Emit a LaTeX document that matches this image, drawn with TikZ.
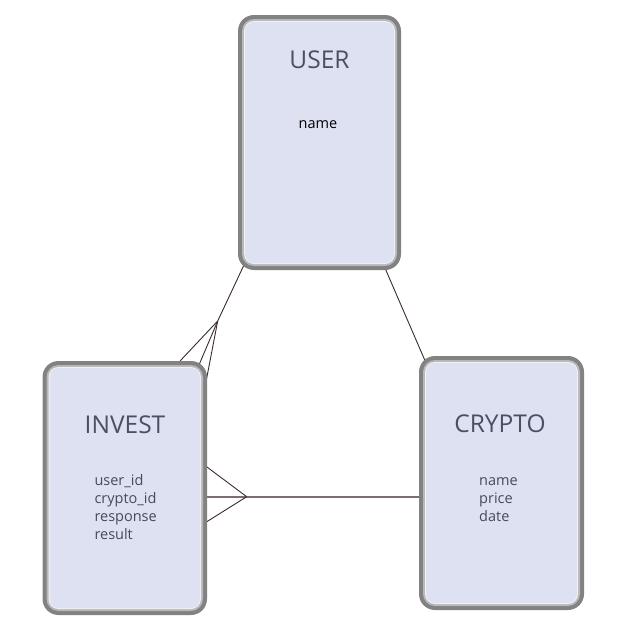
\documentclass[tikz,border=0pt]{standalone}
\usepackage{fontspec}
\setmainfont{Open Sans}
\usetikzlibrary{backgrounds}
\definecolor{boxfill}{HTML}{DEE1F2}
\definecolor{outerG}{HTML}{828282}
\definecolor{midG}{HTML}{B8B8B8}
\definecolor{hiG}{HTML}{F2F2F4}
\definecolor{titleC}{HTML}{4A4F63}
\definecolor{attrC}{HTML}{454A5C}
\definecolor{linkC}{HTML}{3A2A2E}
\definecolor{linkH}{HTML}{7A6E70}
\begin{document}
\begin{tikzpicture}[x=1pt,y=-1pt,
  ent/.style={rectangle, rounded corners=16pt, fill=outerG, inner sep=0pt,
    path picture={
      \fill[midG, rounded corners=12pt] ([shift={(4pt,4pt)}]path picture bounding box.south west) rectangle ([shift={(-4pt,-4pt)}]path picture bounding box.north east);
      \fill[hiG, rounded corners=10pt] ([shift={(6pt,6pt)}]path picture bounding box.south west) rectangle ([shift={(-6pt,-6pt)}]path picture bounding box.north east);
      \fill[boxfill, rounded corners=9pt] ([shift={(7pt,7pt)}]path picture bounding box.south west) rectangle ([shift={(-7pt,-7pt)}]path picture bounding box.north east);
    }},
  title/.style={inner sep=0pt, anchor=base, text=titleC, font=\fontsize{24.5}{28}\selectfont},
  attr/.style={inner sep=0pt, anchor=base west, text=attrC, font=\fontsize{14.5}{18}\selectfont},
  link/.style={draw=linkC, line width=0.9pt},
  linkh/.style={draw=linkH, line width=1.6pt}
]
\useasboundingbox (0,0) rectangle (640,640);

% entities
\node[ent, minimum width=163pt, minimum height=255pt] (user) at (319.5,142.5) {};
\node[ent, minimum width=164.5pt, minimum height=254pt] (invest) at (124.75,488) {};
\node[ent, minimum width=165pt, minimum height=254pt] (crypto) at (501.5,483) {};

% titles
\node[title] (userT) at (319.5,68) {USER};
\node[title] (investT) at (125,433) {INVEST};
\node[title] (cryptoT) at (500,432) {CRYPTO};

% attributes
\node[inner sep=0pt, anchor=base, text=black, font=\fontsize{14.5}{18}\selectfont] (userA1) at (318,128) {name};
\node[attr] (invA1) at (94.3,485) {user\_id};
\node[attr] (invA2) at (94.3,503) {crypto\_id};
\node[attr] (invA3) at (94.3,521) {response};
\node[attr] (invA4) at (94.3,539) {result};
\node[attr] (cryA1) at (479,485) {name};
\node[attr] (cryA2) at (479,503) {price};
\node[attr] (cryA3) at (479,521) {date};

% connectors
\coordinate (forkUI) at (217.7,321);
\coordinate (forkIC) at (246.7,496.7);
\begin{scope}[on background layer]
  \draw[link] ([shift={(7,-7)}]user.south west) -- (forkUI);
  \draw[link] (forkUI) -- ([shift={(-27,0)}]invest.north east);
  \draw[link] (forkUI) -- ([shift={(-9,6)}]invest.north east);
  \draw[link] (forkUI) -- ([shift={(-1,20)}]invest.north east);
  \draw[linkh] ([shift={(-2,8.7)}]invest.east) -- ([shift={(2,13.7)}]crypto.west);
  \draw[link] (forkIC) -- ([shift={(-2,-22.3)}]invest.east);
  \draw[link] (forkIC) -- ([shift={(-2,34.7)}]invest.east);
  \draw[link] ([shift={(-18.3,-7)}]user.south east) -- ([shift={(8,9)}]crypto.north west);
\end{scope}
\end{tikzpicture}
\end{document}
